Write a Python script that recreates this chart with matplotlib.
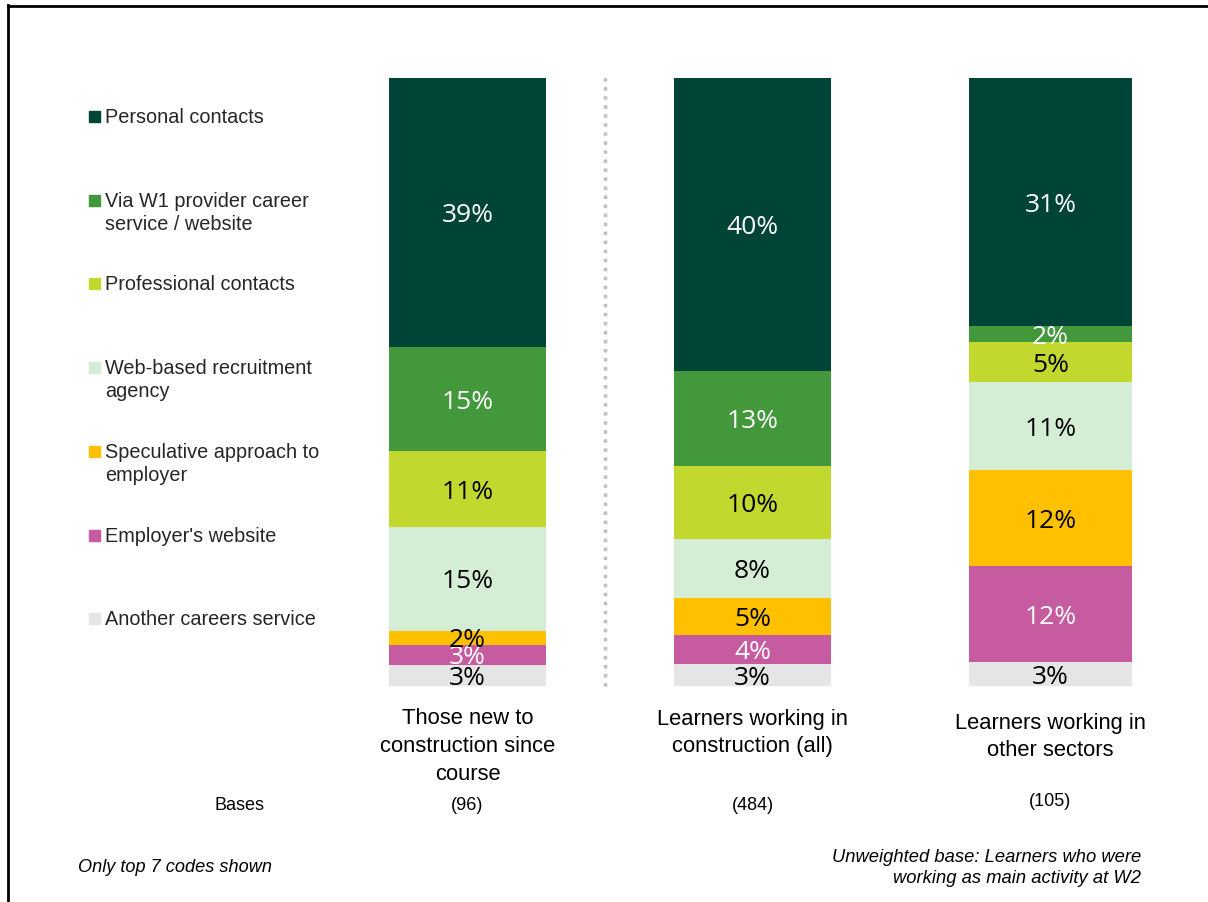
import matplotlib
matplotlib.use("Agg")
import matplotlib.pyplot as plt
import numpy as np

# sources of finding work, share of the top 7 codes per group
sources = ["Personal contacts",
           "Via W1 provider career\nservice / website",
           "Professional contacts",
           "Web-based recruitment\nagency",
           "Speculative approach to\nemployer",
           "Employer's website",
           "Another careers service"]
groups = ["Those new to\nconstruction since\ncourse",
          "Learners working in\nconstruction (all)",
          "Learners working in\nother sectors"]
bases = ["(96)", "(484)", "(105)"]

personal = [39, 40, 31]
provider = [15, 13, 2]
professional = [11, 10, 5]
web_agency = [15, 8, 11]
speculative = [2, 5, 12]
employer_site = [3, 4, 12]
another = [3, 3, 3]

colours = ["#004438", "#43983C", "#C2D82E", "#D6EDD5", "#FFC000", "#C75B9F", "#E5E5E5"]
label_col = ["white", "white", "black", "black", "black", "white", "black"]

series = np.array([personal, provider, professional, web_agency,
                   speculative, employer_site, another], dtype=float)
totals = series.sum(axis=0)

W, H = 1208, 902
fig = plt.figure(figsize=(W / 100, H / 100), dpi=100)

# bars in pixel x, stacked share on y (bottom segment first)
ax = fig.add_axes([0, 1 - 686 / H, 1, (686 - 78) / H])
ax.set_xlim(0, W)
ax.set_ylim(0, 1)
ax.axis("off")

xpos = [467.5, 752.5, 1050.5]
widths = [157, 157, 163]
nudge = 3 / 608  # sit the labels a touch lower in the segment
bottom = np.zeros(3)
for i in range(len(sources) - 1, -1, -1):
    h = series[i] / totals
    ax.bar(xpos, h, width=widths, bottom=bottom, color=colours[i], linewidth=0)
    for j in range(3):
        ax.text(xpos[j], bottom[j] + h[j] / 2 - nudge, f"{int(series[i][j])}%",
                ha="center", va="center", fontsize=19, family="Open Sans",
                color=label_col[i])
    bottom += h

# dotted divider between the first group and the rest
ax.plot([605, 605], [0, 1.005], linestyle=(0, (1, 1.6)), color="#BFBFBF",
        linewidth=2.5, clip_on=False)

# legend squares and text on the left
for k, name in enumerate(sources):
    y = 116 + k * 83.7
    fig.patches.append(plt.Rectangle((89 / W, 1 - (y + 6) / H), 11 / W, 11 / H,
                                     transform=fig.transFigure, color=colours[k]))
    fig.text(105 / W, 1 - (y - 8) / H, name, ha="left", va="top", fontsize=14.3,
             family="Liberation Sans", color="#262626", linespacing=1.28)

# group labels and bases
label_y = [708.5, 708.5, 712.5]
for j in range(3):
    fig.text(xpos[j] / W, 1 - label_y[j] / H, groups[j], ha="center", va="top",
             fontsize=15.8, family="Liberation Sans", color="black", linespacing=1.42)
base_y = [806, 806, 801]
fig.text(240 / W, 1 - 806 / H, "Bases", ha="center", va="center", fontsize=13,
         family="Liberation Sans", color="black")
for j in range(3):
    fig.text(xpos[j] / W, 1 - base_y[j] / H, bases[j], ha="center", va="center",
             fontsize=13, family="Liberation Sans", color="black")

fig.text(78 / W, 1 - 868 / H, "Only top 7 codes shown", ha="left", va="center",
         fontsize=13.1, style="italic", family="Liberation Sans")
fig.text(1141 / W, 1 - 868 / H, "Unweighted base: Learners who were\nworking as main activity at W2",
         ha="right", va="center", fontsize=13.2, style="italic", family="Liberation Sans",
         linespacing=1.27, multialignment="right")

# frame lines on the top and left edges
fig.add_artist(plt.Line2D([8 / W, 8 / W], [0, 1 - 5 / H], transform=fig.transFigure,
                          color="black", linewidth=2))
fig.add_artist(plt.Line2D([8 / W, 1], [1 - 6 / H, 1 - 6 / H], transform=fig.transFigure,
                          color="black", linewidth=2))

fig.savefig("out.png", dpi=100)
